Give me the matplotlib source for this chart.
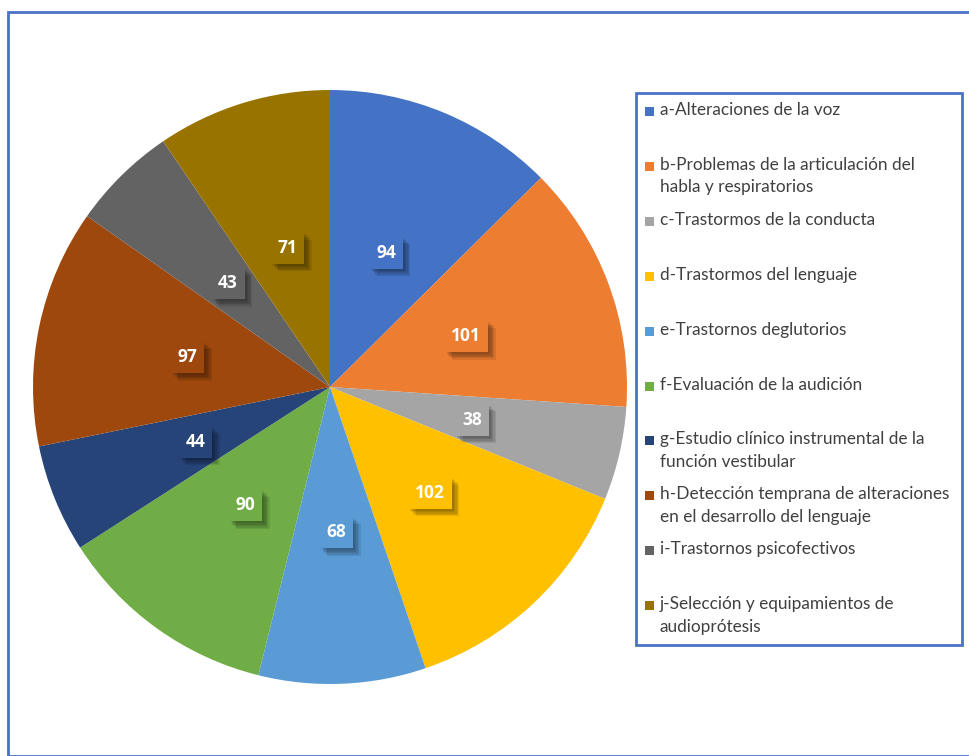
import matplotlib
matplotlib.use("Agg")
import matplotlib.pyplot as plt
import matplotlib.patches as mpatches
import matplotlib.patheffects as pe

# data
labels = [
    "a-Alteraciones de la voz",
    "b-Problemas de la articulación del\nhabla y respiratorios",
    "c-Trastormos de la conducta",
    "d-Trastormos del lenguaje",
    "e-Trastornos deglutorios",
    "f-Evaluación de la audición",
    "g-Estudio clínico instrumental de la\nfunción vestibular",
    "h-Detección temprana de alteraciones\nen el desarrollo del lenguaje",
    "i-Trastornos psicofectivos",
    "j-Selección y equipamientos de\naudioprótesis",
]
values = [94, 101, 38, 102, 68, 90, 44, 97, 43, 71]
colors = ["#4472C4", "#ED7D31", "#A5A5A5", "#FFC000", "#5B9BD5",
          "#70AD47", "#264478", "#9E480E", "#636363", "#997300"]

W, H = 970, 756
fig = plt.figure(figsize=(W / 100, H / 100), dpi=100)
fig.patch.set_facecolor("white")

# outer chart border
fig.add_artist(mpatches.Rectangle((8 / W, 0), 1.2, (H - 12) / H, transform=fig.transFigure,
                                  fill=False, edgecolor="#4A72C8", linewidth=2))

cx, cy, r = 330, 387, 297
ax = fig.add_axes([(cx - r) / W, (H - cy - r) / H, 2 * r / W, 2 * r / H])
wedges, texts = ax.pie(values, colors=colors, startangle=90, counterclock=False,
                       radius=1, labels=[str(v) for v in values], labeldistance=0.49,
                       wedgeprops=dict(linewidth=0))

# soft drop shadow built from a few offset layers
shadow = [pe.SimplePatchShadow(offset=(d, -d), shadow_rgbFace="#000000", alpha=0.09)
          for d in (1.5, 2.5, 3.5, 4.5, 5.5)]
for t, c in zip(texts, colors):
    t.set_ha("center")
    t.set_va("center")
    t.set_color("white")
    t.set_fontweight("bold")
    t.set_fontsize(12.5)
    t.set_fontfamily("Open Sans")
    t.set_bbox(dict(boxstyle="square,pad=0.4", facecolor=c, edgecolor="none"))
    t.get_bbox_patch().set_path_effects(shadow + [pe.Normal()])
ax.set_xlim(-1, 1)
ax.set_ylim(-1, 1)
ax.set_aspect("equal")

# legend box
lx0, ly0, lx1, ly1 = 636, 93, 962, 645
fig.add_artist(mpatches.Rectangle((lx0 / W, 1 - ly1 / H), (lx1 - lx0) / W, (ly1 - ly0) / H,
                                  transform=fig.transFigure, facecolor="white",
                                  edgecolor="#4A72C8", linewidth=2))
step = 54.9
for i, (lab, c) in enumerate(zip(labels, colors)):
    y = 111 + i * step
    fig.add_artist(mpatches.Rectangle((645 / W, 1 - (y + 5) / H), 9 / W, 9 / H,
                                      transform=fig.transFigure, facecolor=c,
                                      edgecolor="none"))
    fig.text(660 / W, 1 - (y - 9) / H, lab, ha="left", va="top", fontsize=12.4,
             color="#404040", family="Lato", linespacing=1.5)

fig.savefig("out.png", dpi=100, facecolor="white")
